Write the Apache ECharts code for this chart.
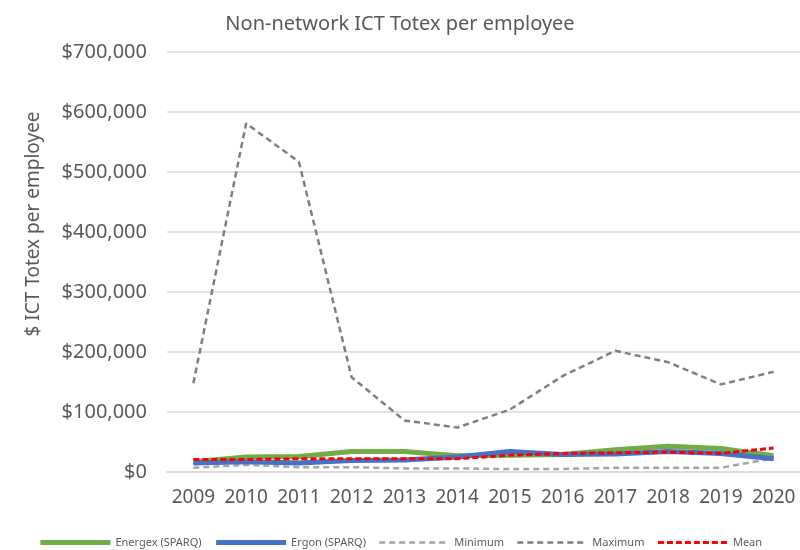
<!DOCTYPE html>
<html>
<head>
<meta charset="utf-8">
<script src="https://cdn.jsdelivr.net/npm/echarts@6/dist/echarts.min.js"></script>
<style>
  html, body { margin: 0; padding: 0; background: #fff; }
  #chart { width: 800px; height: 550px; }
</style>
</head>
<body>
<div id="chart"></div>
<script>
// x axis years
const years = ["2009", "2010", "2011", "2012", "2013", "2014", "2015", "2016", "2017", "2018", "2019", "2020"];
// series values ($ per employee)
const energex = [17000, 25000, 26000, 34000, 34000, 27000, 28000, 29000, 37000, 43000, 39000, 27000];
const ergon   = [15000, 17000, 15000, 19000, 20000, 25000, 34000, 29000, 30000, 34000, 31000, 22000];
const minimum = [7000, 12000, 8000, 8000, 6000, 6000, 5000, 5000, 7000, 7000, 7000, 23000];
const maximum = [148000, 581000, 517000, 158000, 86000, 74000, 104000, 160000, 202000, 183000, 146000, 167000];
const mean    = [21000, 21000, 22000, 22000, 22000, 22000, 28000, 31000, 32000, 33000, 31000, 40000];

const font = "Noto Sans";
const chart = echarts.init(document.getElementById("chart"));

function lineSeries(name, data, color, width, type, z) {
  return {
    name: name,
    type: "line",
    data: data,
    symbol: "none",
    z: z,
    lineStyle: { color: color, width: width, type: type },
    itemStyle: { color: color }
  };
}

const option = {
  animation: false,
  backgroundColor: "#fff",
  textStyle: { fontFamily: font },
  title: {
    text: "Non-network ICT Totex per employee",
    left: "center",
    top: 9,
    textStyle: { fontFamily: font, fontSize: 20, fontWeight: "normal", color: "#595959" }
  },
  legend: {
    top: 532,
    left: "center",
    itemWidth: 70,
    itemHeight: 8,
    itemGap: 12,
    itemStyle: { opacity: 0 },
    lineStyle: { width: "inherit" },
    textStyle: { fontFamily: font, fontSize: 11, color: "#595959" },
    data: ["Energex (SPARQ)", "Ergon (SPARQ)", "Minimum", "Maximum", "Mean"]
  },
  grid: { left: 167, right: 0, top: 52, bottom: 78 },
  xAxis: {
    type: "category",
    data: years,
    boundaryGap: true,
    axisLine: { show: true, lineStyle: { color: "#D9D9D9", width: 1.5 } },
    axisTick: { show: false },
    axisLabel: { fontFamily: font, fontSize: 19, color: "#595959", margin: 16, interval: 0 }
  },
  yAxis: {
    type: "value",
    min: 0,
    max: 700000,
    interval: 100000,
    name: "$ ICT Totex per employee",
    nameLocation: "middle",
    nameGap: 124,
    nameTextStyle: { fontFamily: font, fontSize: 19, color: "#595959", padding: [0, 0, 0, 76] },
    axisLine: { show: false },
    axisTick: { show: false },
    splitLine: { lineStyle: { color: "#D9D9D9", width: 1.5 } },
    axisLabel: {
      fontFamily: font,
      fontSize: 20,
      color: "#595959",
      margin: 20,
      formatter: v => "$" + v.toLocaleString("en-US")
    }
  },
  series: [
    lineSeries("Energex (SPARQ)", energex, "#70AD47", 5, "solid", 2),
    lineSeries("Ergon (SPARQ)", ergon, "#4472C4", 5, "solid", 3),
    lineSeries("Minimum", minimum, "#A5A5A5", 2.5, [6, 4], 2),
    lineSeries("Maximum", maximum, "#7F7F7F", 2.5, [6, 4], 2),
    lineSeries("Mean", mean, "#FF0000", 3, [6, 3], 4)
  ]
};

chart.setOption(option);
</script>
</body>
</html>
